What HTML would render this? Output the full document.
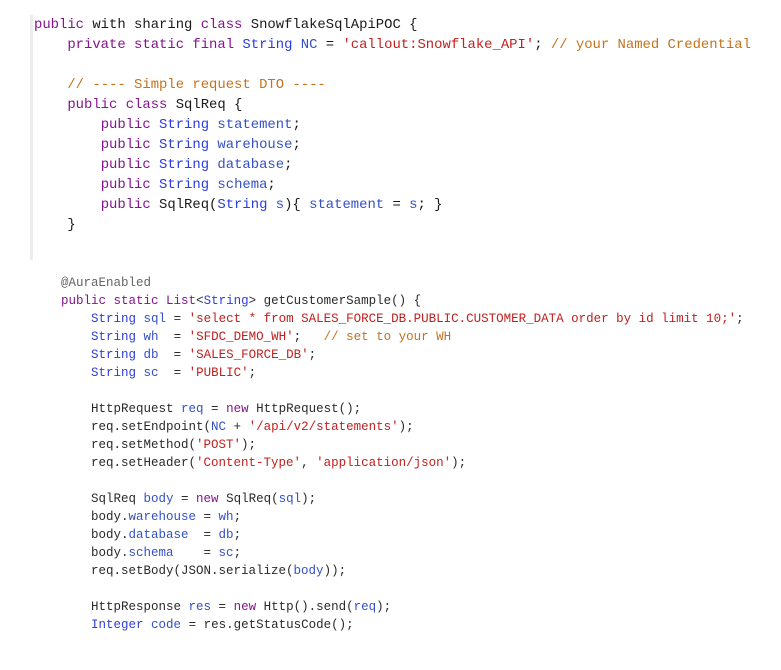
<!DOCTYPE html>
<html><head><meta charset="utf-8"><style>
html,body{margin:0;padding:0;background:#fff;width:781px;height:670px;overflow:hidden;position:relative}
.bar{position:absolute;left:30px;top:15px;width:3px;height:245px;background:#ececec}
.l{position:absolute;white-space:pre;font-family:"Liberation Mono",monospace;color:#1a1a1a}
.t{font-size:13.9px;line-height:20px;height:20px}
.b{font-size:12.5px;line-height:18px;height:18px;color:#2a2a2a}
.k{color:#86138f}.ty{color:#2b3ce0}.v{color:#3350c8}.s{color:#c2201e}.c{color:#c4731c}.a{color:#646464}
</style></head><body>
<div class="bar"></div>
<div class="l t" style="left:34px;top:15px"><span class="k">public</span> with sharing <span class="k">class</span> SnowflakeSqlApiPOC {</div>
<div class="l t" style="left:34px;top:35px">    <span class="k">private static final</span> <span class="ty">String</span> <span class="v">NC</span> = <span class="s">'callout:Snowflake_API'</span>; <span class="c">// your Named Credential</span></div>
<div class="l t" style="left:34px;top:75px">    <span class="c">// ---- Simple request DTO ----</span></div>
<div class="l t" style="left:34px;top:95px">    <span class="k">public class</span> SqlReq {</div>
<div class="l t" style="left:34px;top:115px">        <span class="k">public</span> <span class="ty">String</span> <span class="v">statement</span>;</div>
<div class="l t" style="left:34px;top:135px">        <span class="k">public</span> <span class="ty">String</span> <span class="v">warehouse</span>;</div>
<div class="l t" style="left:34px;top:155px">        <span class="k">public</span> <span class="ty">String</span> <span class="v">database</span>;</div>
<div class="l t" style="left:34px;top:175px">        <span class="k">public</span> <span class="ty">String</span> <span class="v">schema</span>;</div>
<div class="l t" style="left:34px;top:195px">        <span class="k">public</span> SqlReq(<span class="ty">String</span> <span class="v">s</span>){ <span class="v">statement</span> = <span class="v">s</span>; }</div>
<div class="l t" style="left:34px;top:215px">    }</div>

<div class="l b" style="left:61px;top:274px"><span class="a">@AuraEnabled</span></div>
<div class="l b" style="left:61px;top:292px"><span class="k">public static</span> <span class="k">List</span>&lt;<span class="ty">String</span>&gt; getCustomerSample() {</div>
<div class="l b" style="left:61px;top:310px">    <span class="ty">String</span> <span class="v">sql</span> = <span class="s">'select * from SALES_FORCE_DB.PUBLIC.CUSTOMER_DATA order by id limit 10;'</span>;</div>
<div class="l b" style="left:61px;top:328px">    <span class="ty">String</span> <span class="v">wh</span>  = <span class="s">'SFDC_DEMO_WH'</span>;   <span class="c">// set to your WH</span></div>
<div class="l b" style="left:61px;top:346px">    <span class="ty">String</span> <span class="v">db</span>  = <span class="s">'SALES_FORCE_DB'</span>;</div>
<div class="l b" style="left:61px;top:364px">    <span class="ty">String</span> <span class="v">sc</span>  = <span class="s">'PUBLIC'</span>;</div>
<div class="l b" style="left:61px;top:400px">    HttpRequest <span class="v">req</span> = <span class="k">new</span> HttpRequest();</div>
<div class="l b" style="left:61px;top:418px">    req.setEndpoint(<span class="v">NC</span> + <span class="s">'/api/v2/statements'</span>);</div>
<div class="l b" style="left:61px;top:436px">    req.setMethod(<span class="s">'POST'</span>);</div>
<div class="l b" style="left:61px;top:454px">    req.setHeader(<span class="s">'Content-Type'</span>, <span class="s">'application/json'</span>);</div>
<div class="l b" style="left:61px;top:490px">    SqlReq <span class="v">body</span> = <span class="k">new</span> SqlReq(<span class="v">sql</span>);</div>
<div class="l b" style="left:61px;top:508px">    body.<span class="v">warehouse</span> = <span class="v">wh</span>;</div>
<div class="l b" style="left:61px;top:526px">    body.<span class="v">database</span>  = <span class="v">db</span>;</div>
<div class="l b" style="left:61px;top:544px">    body.<span class="v">schema</span>    = <span class="v">sc</span>;</div>
<div class="l b" style="left:61px;top:562px">    req.setBody(JSON.serialize(<span class="v">body</span>));</div>
<div class="l b" style="left:61px;top:598px">    HttpResponse <span class="v">res</span> = <span class="k">new</span> Http().send(<span class="v">req</span>);</div>
<div class="l b" style="left:61px;top:616px">    <span class="ty">Integer</span> <span class="v">code</span> = res.getStatusCode();</div>
</body></html>
